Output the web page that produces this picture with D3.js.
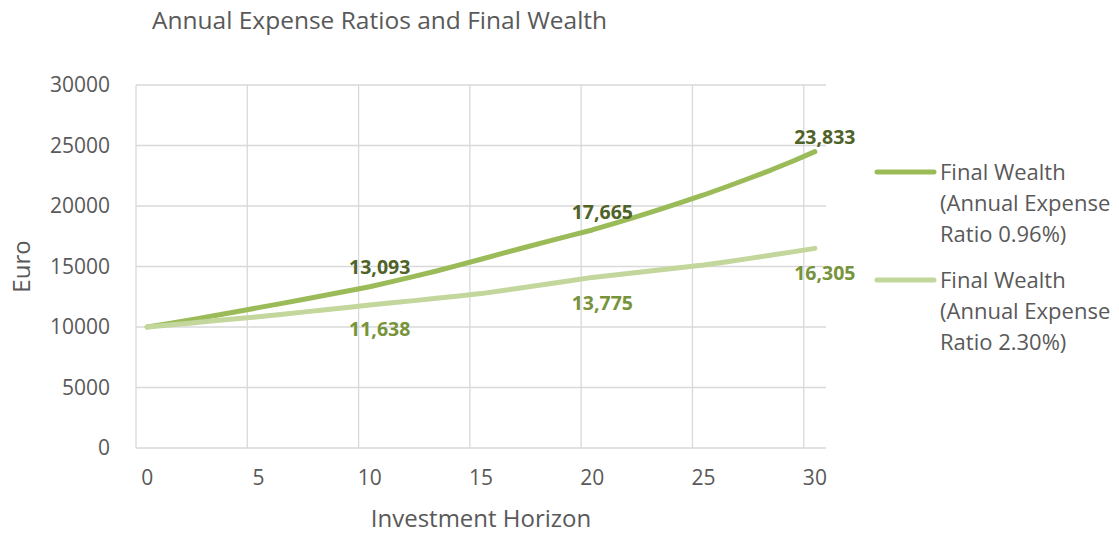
<!DOCTYPE html>
<html>
<head>
<meta charset="utf-8">
<script src="https://cdn.jsdelivr.net/npm/d3@7"></script>
<style>
  body { margin: 0; background: #fff; }
  svg text { font-family: "Open Sans", Lato, sans-serif; fill: #595959; }
</style>
</head>
<body>
<div id="chart"></div>
<script>
'use strict';

var years = d3.range(0, 31);
var yTicks = [0, 5000, 10000, 15000, 20000, 25000, 30000];
var xTicks = [0, 5, 10, 15, 20, 25, 30];

var wealthLow = [10000, 10300, 10610, 10930, 11260, 11600, 11930, 12270, 12620, 12970,
                 13330, 13750, 14180, 14630, 15110, 15600, 16100, 16590, 17080, 17550,
                 18020, 18560, 19120, 19700, 20300, 20910, 21570, 22250, 22950, 23700, 24490];
var wealthHigh = [10000, 10170, 10340, 10510, 10680, 10850, 11040, 11230, 11420, 11620,
                  11820, 12000, 12180, 12370, 12560, 12760, 13020, 13290, 13560, 13830,
                  14100, 14300, 14500, 14710, 14910, 15120, 15380, 15650, 15930, 16210, 16500];

var seriesNames = [
  ['Final Wealth', '(Annual Expense', 'Ratio 0.96%)'],
  ['Final Wealth', '(Annual Expense', 'Ratio 2.30%)']
];

// data labels shown on the chart
var labelYears = [10, 20, 30];
var labelsLow = [13093, 17665, 23833];
var labelsHigh = [11638, 13775, 16305];

var series = [
  { name: seriesNames[0], values: wealthLow, labels: labelsLow, color: '#9bbb59', labelColor: '#4f6228', side: -1 },
  { name: seriesNames[1], values: wealthHigh, labels: labelsHigh, color: '#c3d69b', labelColor: '#77933c', side: 1 }
];

var width = 1119, height = 537;
var margin = { top: 85, right: 293, bottom: 89, left: 136 };

var svg = d3.select('#chart')
    .append('svg')
    .attr('width', width)
    .attr('height', height);

var x = d3.scaleBand()
    .domain(years)
    .range([margin.left, width - margin.right]);

var y = d3.scaleLinear()
    .domain([0, 30000])
    .range([height - margin.bottom, margin.top]);

function cx(d) { return x(d) + x.bandwidth() / 2; }

// grid
svg.append('g')
    .selectAll('line.h')
    .data(yTicks)
    .enter()
    .append('line')
    .attr('x1', margin.left)
    .attr('x2', width - margin.right)
    .attr('y1', function (d) { return y(d); })
    .attr('y2', function (d) { return y(d); })
    .attr('stroke', '#d9d9d9')
    .attr('stroke-width', 1.3);

svg.append('g')
    .selectAll('line.v')
    .data(xTicks)
    .enter()
    .append('line')
    .attr('x1', function (d) { return x(d); })
    .attr('x2', function (d) { return x(d); })
    .attr('y1', y(0))
    .attr('y2', y(30000))
    .attr('stroke', '#d9d9d9')
    .attr('stroke-width', 1.3);

// y axis labels
var yAxis = svg.append('g')
    .attr('transform', 'translate(' + (margin.left - 26) + ',0)')
    .call(d3.axisLeft(y).tickValues(yTicks).tickSize(0).tickPadding(0).tickFormat(d3.format('d')));
yAxis.select('.domain').remove();
yAxis.selectAll('text')
    .attr('font-size', 21)
    .attr('font-family', '"Open Sans", sans-serif')
    .attr('fill', '#595959');

// x axis labels
var xAxis = svg.append('g')
    .attr('transform', 'translate(0,' + (y(0) + 22) + ')')
    .call(d3.axisBottom(x).tickValues(xTicks).tickSize(0).tickPadding(0));
xAxis.select('.domain').remove();
xAxis.selectAll('text')
    .attr('font-size', 21)
    .attr('font-family', '"Open Sans", sans-serif')
    .attr('fill', '#595959');

// lines
var line = d3.line()
    .x(function (d, i) { return cx(years[i]); })
    .y(function (d) { return y(d); });

svg.selectAll('path.series')
    .data(series)
    .enter()
    .append('path')
    .attr('class', 'series')
    .attr('d', function (d) { return line(d.values); })
    .attr('fill', 'none')
    .attr('stroke', function (d) { return d.color; })
    .attr('stroke-width', 5)
    .attr('stroke-linecap', 'round')
    .attr('stroke-linejoin', 'round');

// data labels
series.forEach(function (s) {
  svg.append('g')
      .selectAll('text')
      .data(s.labels)
      .enter()
      .append('text')
      .attr('x', function (d, i) { return cx(labelYears[i]) + 10; })
      .attr('y', function (d) { return y(d) + s.side * 22; })
      .attr('dy', '0.35em')
      .attr('text-anchor', 'middle')
      .attr('font-size', 19.5)
      .attr('font-weight', 'bold')
      .style('fill', s.labelColor)
      .text(function (d) { return d3.format(',')(d); });
});

// legend
var legend = svg.selectAll('g.legend')
    .data(series)
    .enter()
    .append('g')
    .attr('class', 'legend')
    .attr('transform', function (d, i) { return 'translate(877,' + (172 + i * 108) + ')'; });

legend.append('line')
    .attr('x1', 0)
    .attr('x2', 57)
    .attr('stroke', function (d) { return d.color; })
    .attr('stroke-width', 5)
    .attr('stroke-linecap', 'round');

legend.append('text')
    .attr('x', 63)
    .attr('font-size', 22)
    .selectAll('tspan')
    .data(function (d) { return d.name; })
    .enter()
    .append('tspan')
    .attr('x', 63)
    .attr('y', function (d, i) { return i * 31; })
    .attr('dy', '0.35em')
    .text(function (d) { return d; });

// titles
svg.append('text')
    .attr('x', 152)
    .attr('y', 20)
    .attr('dy', '0.35em')
    .attr('font-size', 24.5)
    .text('Annual Expense Ratios and Final Wealth');

svg.append('text')
    .attr('transform', 'translate(22,' + y(15000) + ') rotate(-90)')
    .attr('dy', '0.35em')
    .attr('text-anchor', 'middle')
    .attr('font-size', 24)
    .text('Euro');

svg.append('text')
    .attr('x', (x(0) + x(30) + x.bandwidth()) / 2)
    .attr('y', 519)
    .attr('dy', '0.35em')
    .attr('text-anchor', 'middle')
    .attr('font-size', 24)
    .text('Investment Horizon');
</script>
</body>
</html>
